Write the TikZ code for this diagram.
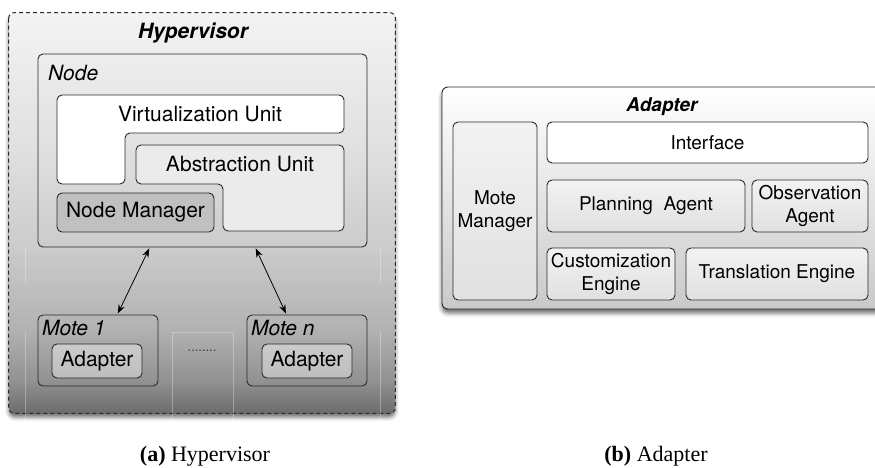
\documentclass[tikz,border=0pt]{standalone}
\usepackage{fontspec}
\setsansfont{TeX Gyre Heros}
\setmainfont{Liberation Serif}
\usetikzlibrary{arrows.meta,calc,shadows.blur}

\definecolor{edge}{HTML}{2A2A2A}
\definecolor{hvA}{RGB}{108,108,108}
\definecolor{hvB}{RGB}{145,145,145}
\definecolor{hvC}{RGB}{178,178,178}
\definecolor{hvD}{RGB}{203,203,203}
\definecolor{hvE}{RGB}{224,224,224}
\definecolor{hvF}{RGB}{243,243,243}
\definecolor{absfill}{RGB}{235,235,235}
\definecolor{mgrfill}{RGB}{192,192,192}

% background of the hypervisor panel: light at the top, dark at the bottom
\pgfdeclareverticalshading{hypershade}{100bp}{%
  color(0bp)=(hvA); color(25bp)=(hvA); color(29bp)=(hvB);
  color(35.5bp)=(hvC); color(45.5bp)=(hvD); color(58bp)=(hvE);
  color(75bp)=(hvF); color(100bp)=(hvF)}

\newcommand{\lefttext}{\sffamily\fontsize{21}{25}\selectfont}
\newcommand{\righttext}{\sffamily\fontsize{19}{23}\selectfont}

\tikzset{
  box/.style={draw=edge, line width=0.9pt, rounded corners=5pt,
    inner sep=0pt, align=center},
  panel/.style={box, rounded corners=6pt,
    blur shadow={shadow xshift=0pt, shadow yshift=-4pt,
      shadow blur radius=4pt, shadow opacity=60}},
  label/.style={inner sep=0pt, align=center},
  faint/.style={white, opacity=0.3, line width=0.6pt},
  link/.style={{Stealth[length=9pt,width=6.5pt]}-{Stealth[length=9pt,width=6.5pt]},
    line width=0.8pt, black, shorten <=1pt, shorten >=1pt},
  sub/.style={box, top color=black!5, bottom color=black!12},
  caption/.style={inner sep=0pt, font=\rmfamily\fontsize{22}{26}\selectfont}
}

\begin{document}
\begin{tikzpicture}[x=1pt, y=-1pt, font=\sffamily]
\useasboundingbox (0,0) rectangle (875,468);

% ---------------- (a) Hypervisor ----------------
\node[panel, draw=none, shading=hypershade,
      minimum width=386pt, minimum height=400pt] (hyper) at (202,213) {};
\draw[draw=edge, line width=1pt, dash pattern=on 4pt off 3pt, rounded corners=6pt]
  (hyper.north west) rectangle (hyper.south east);
\node[label, font=\lefttext\bfseries\itshape] (hypertitle) at (193,33) {Hypervisor};

% thin light seams of the panel
\draw[faint] (25,248) -- (25,283);
\draw[faint] (25,332) -- (25,420);
\draw[faint] (380,248) -- (380,283);
\draw[faint] (380,332) -- (380,420);
\draw[faint] (172,425) -- (172,332) -- (233,332) -- (233,425);

% node container
\node[box, minimum width=329pt, minimum height=193pt] (nodebox) at (202.5,150.5) {};
\node[label, anchor=west, font=\lefttext\itshape] (nodelabel) at (48,73) {Node};

% virtualization unit (L-shaped)
\draw[draw=edge, line width=0.9pt, rounded corners=5pt, fill=white]
  (57,95) -- (344,95) -- (344,133) -- (125,133) -- (125,184) -- (57,184) -- cycle;
\node[label, font=\lefttext] (virt) at (200,114) {Virtualization Unit};

% abstraction unit (L-shaped)
\draw[draw=edge, line width=0.9pt, rounded corners=5pt, fill=absfill]
  (136,145) -- (344,145) -- (344,231) -- (223,231) -- (223,184) -- (136,184) -- cycle;
\node[label, font=\lefttext] (abstr) at (240,164) {Abstraction Unit};

% node manager
\node[box, fill=mgrfill, minimum width=157pt, minimum height=39pt,
      font=\lefttext] (nodemgr) at (135.5,212.5) {Node Manager};

% motes
\node[box, minimum width=120pt, minimum height=71pt] (mote1) at (98,350.5) {};
\node[box, minimum width=120pt, minimum height=71pt] (moten) at (307,350.5) {};
\node[label, anchor=west, font=\lefttext\itshape] (mote1label) at (42,328) {Mote 1};
\node[label, anchor=west, font=\lefttext\itshape] (motenlabel) at (251,328) {Mote n};
\node[box, fill=white, fill opacity=0.4, text opacity=1, minimum width=90pt,
      minimum height=34pt, font=\lefttext] (adapter1) at (97,361) {Adapter};
\node[box, fill=white, fill opacity=0.4, text opacity=1, minimum width=90pt,
      minimum height=34pt, font=\lefttext] (adaptern) at (307,361) {Adapter};
\node[label, font=\sffamily\fontsize{13}{13}\selectfont, text=black!75] (dots) at (202,351) {........};

% links between the node and the motes
\coordinate (n1) at ($(nodebox.south west)!0.34!(nodebox.south east)$);
\coordinate (n2) at ($(nodebox.south west)!0.66!(nodebox.south east)$);
\coordinate (m1) at ($(mote1.north west)!0.66!(mote1.north east)$);
\coordinate (m2) at ($(moten.north west)!0.33!(moten.north east)$);
\draw[link] (n1) -- (m1);
\draw[link] (n2) -- (m2);

% ---------------- (b) Adapter ----------------
\node[panel, top color=white, bottom color=black!21,
      minimum width=443pt, minimum height=222pt] (adpanel) at (663.5,198) {};
\node[label, font=\righttext\bfseries\itshape] (adtitle) at (662,107) {Adapter};

\node[sub, minimum width=84pt, minimum height=178pt, font=\righttext]
  (motemgr) at (495,211) {Mote\\Manager};
\node[box, fill=white, minimum width=321pt, minimum height=41pt, font=\righttext]
  (iface) at (707.5,142.5) {Interface};
\node[sub, minimum width=198pt, minimum height=52pt, font=\righttext]
  (plan) at (646,206) {Planning\ \ Agent};
\node[sub, minimum width=116pt, minimum height=52pt, font=\righttext]
  (obs) at (810,206) {Observation\\Agent};
\node[sub, minimum width=128pt, minimum height=52pt, font=\righttext]
  (custom) at (611,274) {Customization\\Engine};
\node[sub, minimum width=182pt, minimum height=52pt, font=\righttext]
  (trans) at (777,274) {Translation Engine};

% ---------------- captions ----------------
\node[caption] (capa) at (205,456) {\textbf{(a)} Hypervisor};
\node[caption] (capb) at (656,456) {\textbf{(b)} Adapter};
\end{tikzpicture}
\end{document}
